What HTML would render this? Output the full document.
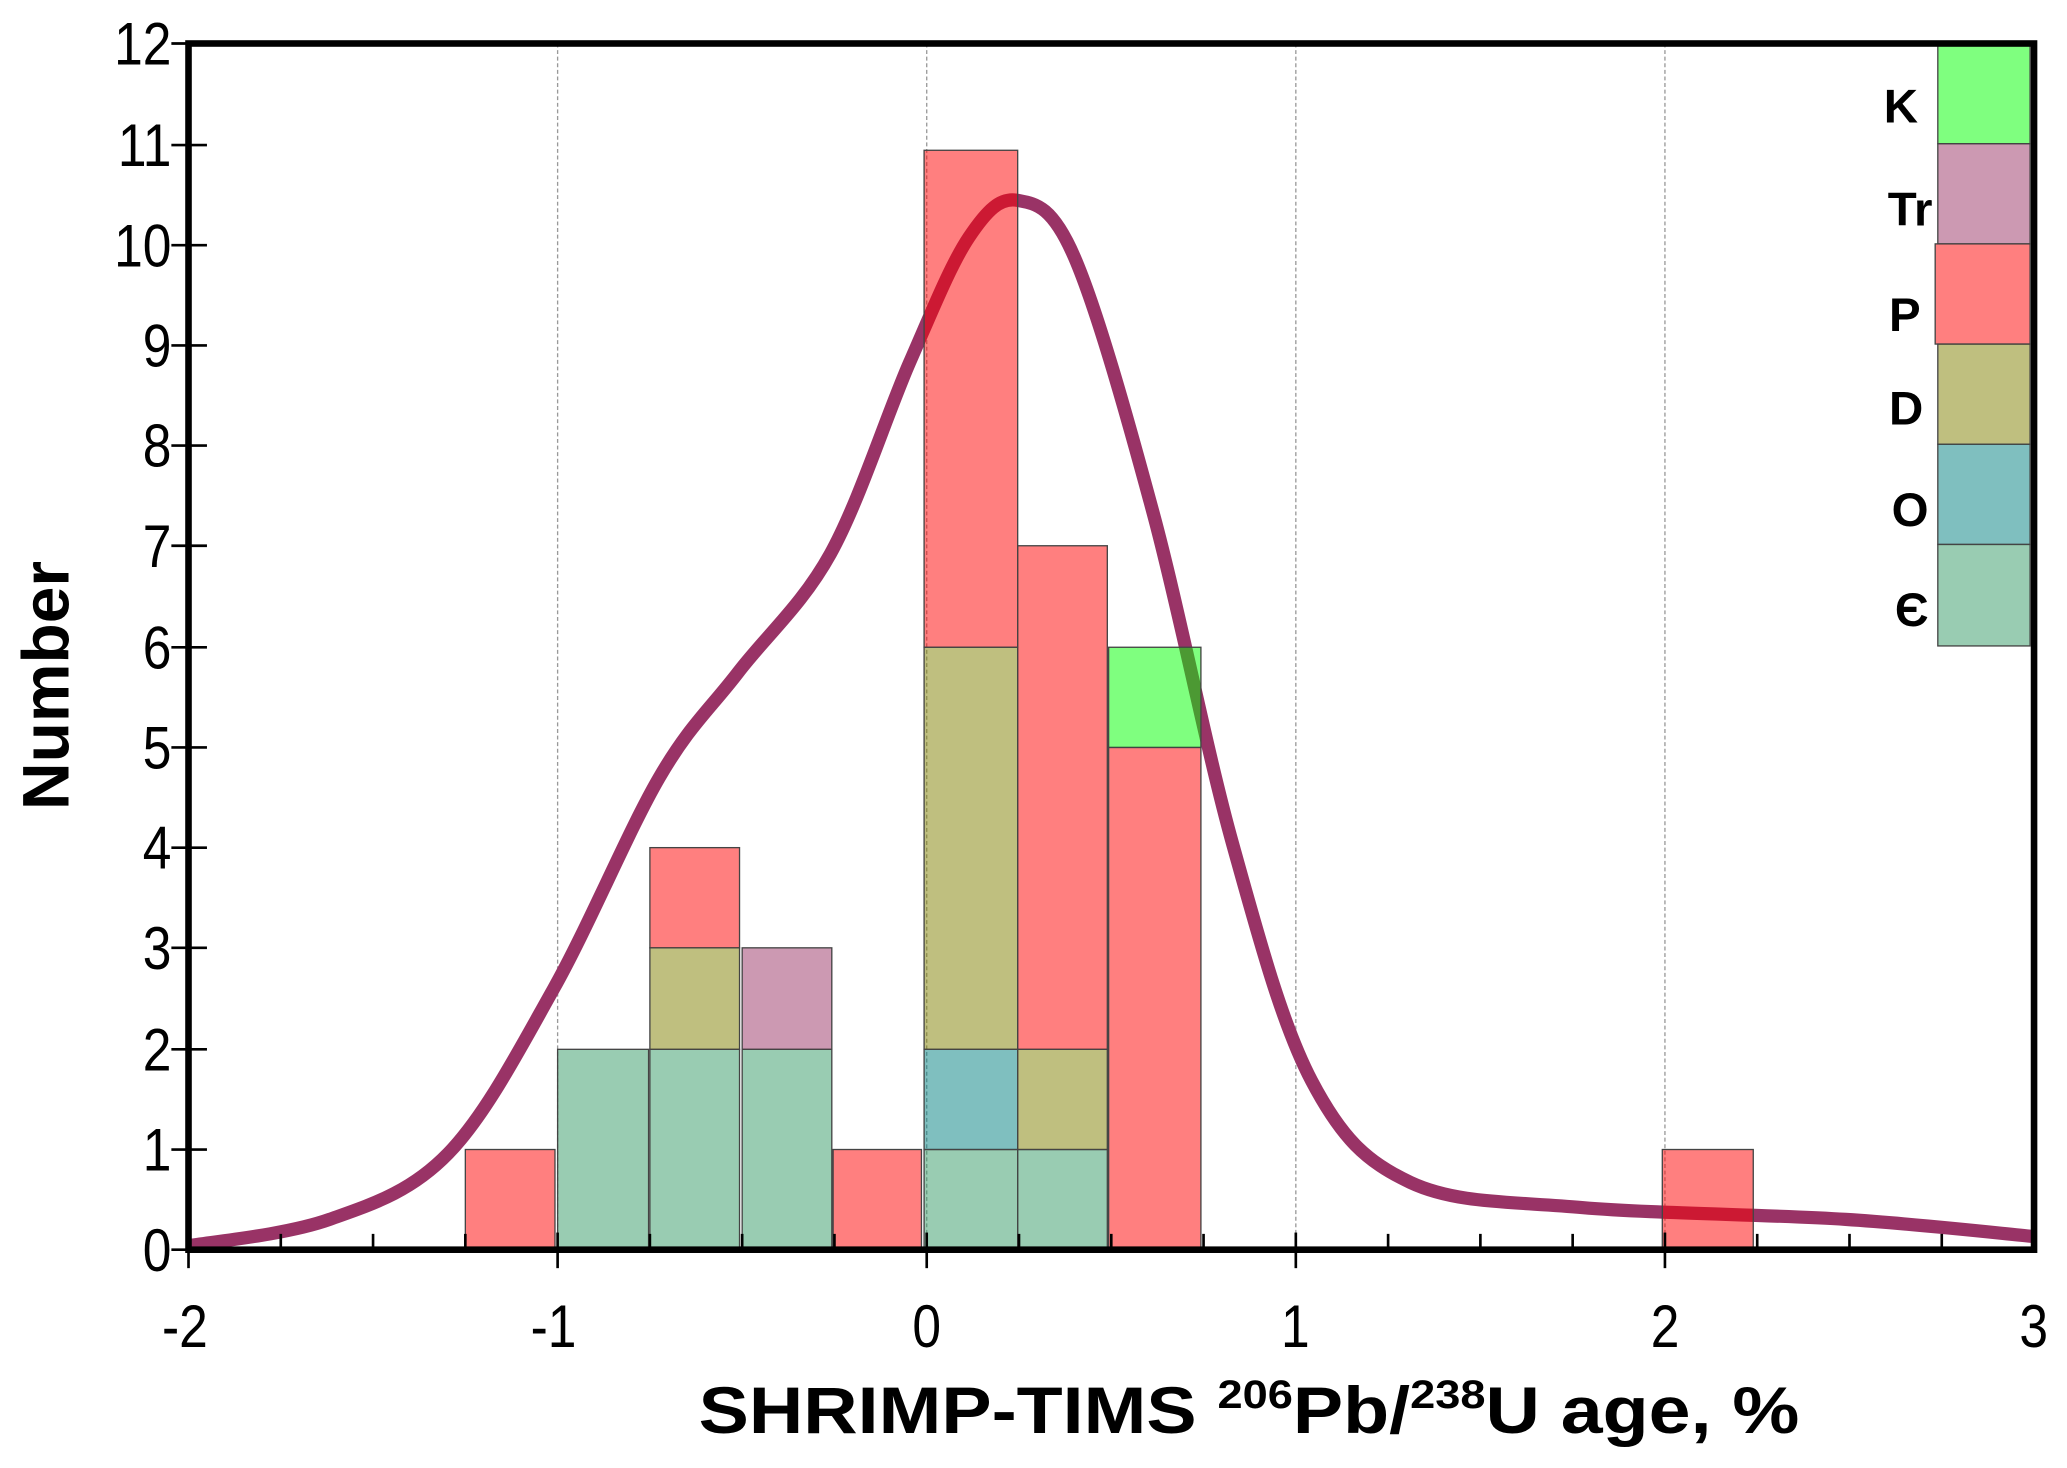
<!DOCTYPE html>
<html><head><meta charset="utf-8"><style>html,body{margin:0;padding:0;background:#fff}svg{display:block}</style></head>
<body>
<svg width="2067" height="1468" viewBox="0 0 1568 1113.6" preserveAspectRatio="none" xmlns="http://www.w3.org/2000/svg" font-family="Liberation Sans, Arial, sans-serif">
<rect width="1568" height="1114" fill="#fff"/>
<g stroke="#999" stroke-width="1" stroke-dasharray="3,2">
<line x1="423" y1="33" x2="423" y2="948"/><line x1="703" y1="33" x2="703" y2="948"/><line x1="983" y1="33" x2="983" y2="948"/><line x1="1263" y1="33" x2="1263" y2="948"/>
</g>
<path d="M143,945 C161,942 217.2,936.7 250,925 C282.8,913.3 311.7,904.2 340,875 C368.3,845.8 393.3,797.5 420,750 C446.7,702.5 476.7,630 500,590 C523.3,550 538.3,538.3 560,510 C581.7,481.7 608.3,459.2 630,420 C651.7,380.8 672.5,315 690,275 C707.5,235 721.3,200.5 735,180 C748.7,159.5 758.7,149.5 772,152 C785.3,154.5 797.8,155.3 815,195 C832.2,234.7 855,315.8 875,390 C895,464.2 915,568.3 935,640 C955,711.7 972.5,777.2 995,820 C1017.5,862.8 1035.8,881 1070,897 C1104.2,913 1145,911.3 1200,916 C1255,920.7 1342.8,921.3 1400,925 C1457.2,928.7 1519.2,935.8 1543,938" fill="none" stroke="#993366" stroke-width="10" stroke-linejoin="round"/>
<g stroke="#444" stroke-width="1">
<rect x="353" y="872" width="68" height="76" fill="rgba(255,0,0,.5)"/>
<rect x="423" y="796" width="69" height="152" fill="rgba(51,153,102,.5)"/>
<rect x="493" y="796" width="68" height="152" fill="rgba(51,153,102,.5)"/>
<rect x="493" y="719" width="68" height="77" fill="rgba(128,128,0,.5)"/>
<rect x="493" y="643" width="68" height="76" fill="rgba(255,0,0,.5)"/>
<rect x="563" y="796" width="68" height="152" fill="rgba(51,153,102,.5)"/>
<rect x="563" y="719" width="68" height="77" fill="rgba(153,51,102,.5)"/>
<rect x="632" y="872" width="67" height="76" fill="rgba(255,0,0,.5)"/>
<rect x="701" y="872" width="71" height="76" fill="rgba(51,153,102,.5)"/>
<rect x="701" y="796" width="71" height="76" fill="rgba(0,128,128,.5)"/>
<rect x="701" y="491" width="71" height="305" fill="rgba(128,128,0,.5)"/>
<rect x="701" y="114" width="71" height="377" fill="rgba(255,0,0,.5)"/>
<rect x="772" y="872" width="68" height="76" fill="rgba(51,153,102,.5)"/>
<rect x="772" y="796" width="68" height="76" fill="rgba(128,128,0,.5)"/>
<rect x="772" y="414" width="68" height="382" fill="rgba(255,0,0,.5)"/>
<rect x="841" y="567" width="70" height="381" fill="rgba(255,0,0,.5)"/>
<rect x="841" y="491" width="70" height="76" fill="rgba(0,255,0,.5)"/>
<rect x="1261" y="872" width="69" height="76" fill="rgba(255,0,0,.5)"/>
<rect x="1470" y="33" width="70" height="76" fill="rgba(0,255,0,.5)"/>
<rect x="1470" y="109" width="70" height="76" fill="rgba(153,51,102,.5)"/>
<rect x="1468" y="185" width="72" height="76" fill="rgba(255,0,0,.5)"/>
<rect x="1470" y="261" width="70" height="76" fill="rgba(128,128,0,.5)"/>
<rect x="1470" y="337" width="70" height="76" fill="rgba(0,128,128,.5)"/>
<rect x="1470" y="413" width="70" height="77" fill="rgba(51,153,102,.5)"/>
</g>
<rect x="143" y="33" width="1400" height="915" fill="none" stroke="#000" stroke-width="5"/>
<g stroke="#000" stroke-width="2">
<line x1="130" y1="948" x2="157" y2="948"/><line x1="130" y1="872" x2="157" y2="872"/><line x1="130" y1="796" x2="157" y2="796"/><line x1="130" y1="719" x2="157" y2="719"/><line x1="130" y1="643" x2="157" y2="643"/><line x1="130" y1="567" x2="157" y2="567"/><line x1="130" y1="491" x2="157" y2="491"/><line x1="130" y1="414" x2="157" y2="414"/><line x1="130" y1="338" x2="157" y2="338"/><line x1="130" y1="262" x2="157" y2="262"/><line x1="130" y1="186" x2="157" y2="186"/><line x1="130" y1="110" x2="157" y2="110"/><line x1="130" y1="33" x2="157" y2="33"/>
<line x1="143" y1="935" x2="143" y2="962"/><line x1="423" y1="935" x2="423" y2="962"/><line x1="703" y1="935" x2="703" y2="962"/><line x1="983" y1="935" x2="983" y2="962"/><line x1="1263" y1="935" x2="1263" y2="962"/>
<path d="M213,948v-12M283,948v-12M353,948v-12M493,948v-12M563,948v-12M633,948v-12M773,948v-12M843,948v-12M913,948v-12M1053,948v-12M1123,948v-12M1193,948v-12M1333,948v-12M1403,948v-12M1473,948v-12"/>
</g>
<g font-size="46" text-anchor="end" fill="#000" transform="scale(0.85,1)">
<text x="153" y="964">0</text><text x="153" y="888">1</text><text x="153" y="812">2</text><text x="153" y="735">3</text><text x="153" y="659">4</text><text x="153" y="583">5</text><text x="153" y="507">6</text><text x="153" y="430">7</text><text x="153" y="354">8</text><text x="153" y="278">9</text><text x="153" y="202">10</text><text x="153" y="126">11</text><text x="153" y="49">12</text>
</g>
<g font-size="46" text-anchor="middle" fill="#000" transform="scale(0.85,1)">
<text x="165" y="1022">-2</text><text x="494" y="1022">-1</text><text x="827" y="1022">0</text><text x="1156" y="1022">1</text><text x="1486" y="1022">2</text><text x="1815" y="1022">3</text>
</g>
<text x="530" y="1087" font-size="50" font-weight="bold" textLength="835" lengthAdjust="spacingAndGlyphs">SHRIMP-TIMS <tspan font-size="30" dy="-19">206</tspan><tspan dy="19">Pb/</tspan><tspan font-size="30" dy="-19">238</tspan><tspan dy="19">U age, %</tspan></text>
<text transform="translate(52,520) rotate(-90)" font-size="50" font-weight="bold" text-anchor="middle">Number</text>
<g font-size="36" font-weight="bold" text-anchor="end">
<text x="1455" y="93">K</text><text x="1466" y="171">Tr</text><text x="1457" y="251">P</text><text x="1459" y="322">D</text><text x="1463" y="399">O</text><text x="1463" y="475">Є</text>
</g>
</svg>
</body></html>
